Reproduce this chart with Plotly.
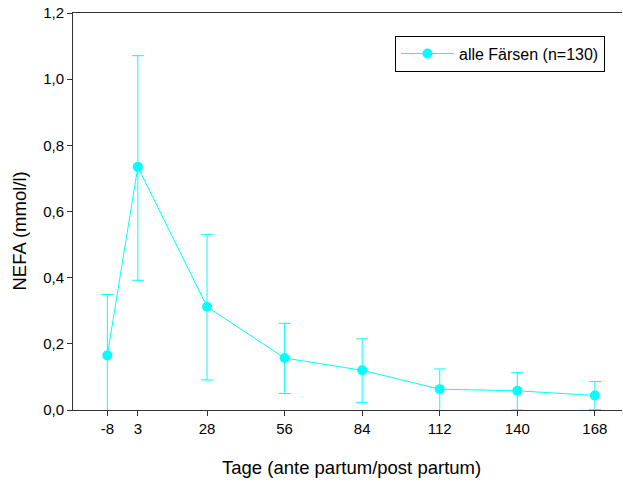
import plotly.graph_objects as go

# Sampling days relative to calving and NEFA concentrations
tage = [-8, 3, 28, 56, 84, 112, 140, 168]
nefa_mittel = [0.165, 0.735, 0.312, 0.157, 0.120, 0.063, 0.058, 0.044]
nefa_oben = [0.349, 1.071, 0.530, 0.262, 0.215, 0.124, 0.113, 0.086]
nefa_unten = [-0.02, 0.392, 0.091, 0.050, 0.023, -0.003, 0.000, 0.001]

y_ticks = [0.0, 0.2, 0.4, 0.6, 0.8, 1.0, 1.2]
y_tick_labels = ["0,0", "0,2", "0,4", "0,6", "0,8", "1,0", "1,2"]

cyan = "#00FFFF"
err_plus = [o - m for o, m in zip(nefa_oben, nefa_mittel)]
err_minus = [m - u for m, u in zip(nefa_mittel, nefa_unten)]

fig = go.Figure()
fig.add_trace(go.Scatter(
    x=tage, y=nefa_mittel,
    mode="lines+markers",
    name="alle Färsen (n=130)",
    line=dict(color=cyan, width=1),
    marker=dict(color=cyan, size=10),
    error_y=dict(type="data", symmetric=False, array=err_plus,
                 arrayminus=err_minus, color=cyan, thickness=1, width=6),
    cliponaxis=True,
))

font = "Liberation Sans, Arial, sans-serif"
fig.update_layout(
    width=623, height=483,
    margin=dict(l=73, r=1, t=13, b=73),
    paper_bgcolor="white", plot_bgcolor="white",
    font=dict(family=font, color="black", size=15),
    showlegend=True,
    legend=dict(x=0.5865, y=0.943, xanchor="left", yanchor="top",
                bordercolor="black", borderwidth=1, bgcolor="white",
                font=dict(size=16, family=font),
                itemwidth=53, tracegroupgap=0),
    xaxis=dict(
        range=[-20.4, 177.8],
        tickmode="array", tickvals=tage, ticktext=[str(t) for t in tage],
        showline=True, linecolor="#333333", linewidth=1, mirror=True,
        ticks="outside", ticklen=5, tickcolor="#333333",
        showgrid=False, zeroline=False,
        tickfont=dict(size=15),
    ),
    yaxis=dict(
        range=[0, 1.2],
        tickmode="array", tickvals=y_ticks, ticktext=y_tick_labels,
        showline=True, linecolor="#333333", linewidth=1,
        ticks="outside", ticklen=5, tickcolor="#333333",
        showgrid=False, zeroline=False,
        tickfont=dict(size=15),
    ),
    annotations=[
        dict(text="Tage (ante partum/post partum)", xref="paper", yref="paper",
             x=0.508, y=-0.146, xanchor="center", yanchor="middle",
             showarrow=False, font=dict(size=18.5)),
        dict(text="NEFA (mmol/l)", xref="paper", yref="paper",
             x=-0.097, y=0.4515, xanchor="center", yanchor="middle",
             textangle=-90, showarrow=False, font=dict(size=18.5)),
    ],
)

fig.write_html("out.html")
